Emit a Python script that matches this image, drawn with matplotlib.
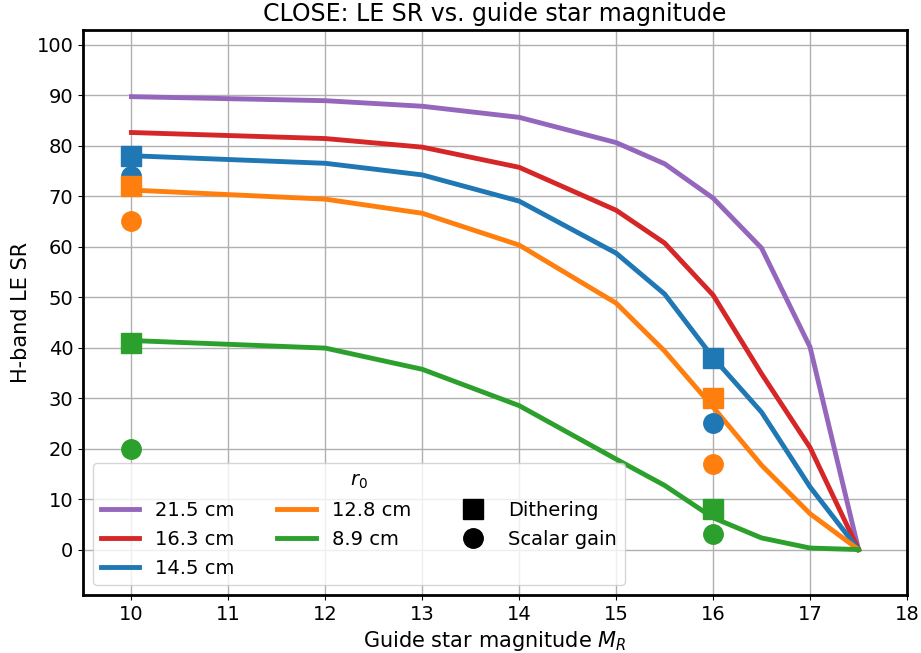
import matplotlib
matplotlib.use("Agg")
import matplotlib.pyplot as plt
from matplotlib.lines import Line2D

# Guide star magnitudes at which the long-exposure Strehl ratio was evaluated
magnitudes = [10, 12, 13, 14, 15, 15.5, 16, 16.5, 17, 17.5]

# H-band LE SR (%) per Fried parameter r0
r0_labels = ["21.5 cm", "16.3 cm", "14.5 cm", "12.8 cm", "8.9 cm"]
sr_215 = [89.7, 88.9, 87.8, 85.6, 80.6, 76.4, 69.6, 59.7, 40.1, 0.0]
sr_163 = [82.6, 81.4, 79.7, 75.7, 67.2, 60.7, 50.4, 34.8, 20.2, 0.0]
sr_145 = [78.0, 76.5, 74.2, 69.0, 58.7, 50.6, 38.0, 27.2, 12.4, 0.0]
sr_128 = [71.2, 69.4, 66.6, 60.3, 48.8, 39.3, 28.2, 16.7, 7.1, 0.0]
sr_89 = [41.4, 39.9, 35.7, 28.5, 17.9, 12.7, 6.3, 2.3, 0.3, 0.0]
line_colors = ["#9467bd", "#d62728", "#1f77b4", "#ff7f0e", "#2ca02c"]

# Individual end-to-end results for three r0 values
point_mags = [10, 16]
point_colors = ["#1f77b4", "#ff7f0e", "#2ca02c"]
dither_145 = [78, 38]
dither_128 = [72, 30]
dither_89 = [41, 8]
scalar_145 = [74, 25]
scalar_128 = [65, 17]
scalar_89 = [20, 3]

x_ticks = [10, 11, 12, 13, 14, 15, 16, 17, 18]
y_ticks = [0, 10, 20, 30, 40, 50, 60, 70, 80, 90, 100]

fig = plt.figure(figsize=(9.21, 6.53), dpi=100)
ax = fig.add_axes([83 / 921, 1 - 595 / 653, (907 - 83) / 921, (595 - 29.5) / 653])

lw = 3.5
ms = 14
curves = [sr_215, sr_163, sr_145, sr_128, sr_89]
handles = []
for label, vals, col in zip(r0_labels, curves, line_colors):
    h, = ax.plot(magnitudes, vals, color=col, lw=lw, label=label, zorder=2)
    handles.append(h)

dithers = [dither_145, dither_128, dither_89]
scalars = [scalar_145, scalar_128, scalar_89]
for col, d, s in zip(point_colors, dithers, scalars):
    ax.plot(point_mags, d, ls="none", marker="s", ms=ms, color=col, zorder=3)
    ax.plot(point_mags, s, ls="none", marker="o", ms=ms, color=col, zorder=3)

handles.append(Line2D([], [], ls="none", marker="s", ms=ms, color="black", label="Dithering"))
handles.append(Line2D([], [], ls="none", marker="o", ms=ms, color="black", label="Scalar gain"))

ax.set_xlim(9.5, 18)
ax.set_ylim(-9, 103)
ax.set_xticks(x_ticks)
ax.set_yticks(y_ticks)
ax.grid(True, color="#b0b0b0", lw=1.0)
ax.set_axisbelow(True)
for sp in ax.spines.values():
    sp.set_linewidth(2.0)
ax.tick_params(labelsize=14)

ax.set_title("CLOSE: LE SR vs. guide star magnitude", fontsize=17)
ax.set_xlabel("Guide star magnitude $M_R$", fontsize=15)
ax.set_ylabel("H-band LE SR", fontsize=15)

ax.legend(handles=handles, ncol=3, loc="lower left", title="$r_0$",
          fontsize=14, title_fontsize=14, columnspacing=2.2)

fig.savefig("out.png", dpi=100)
